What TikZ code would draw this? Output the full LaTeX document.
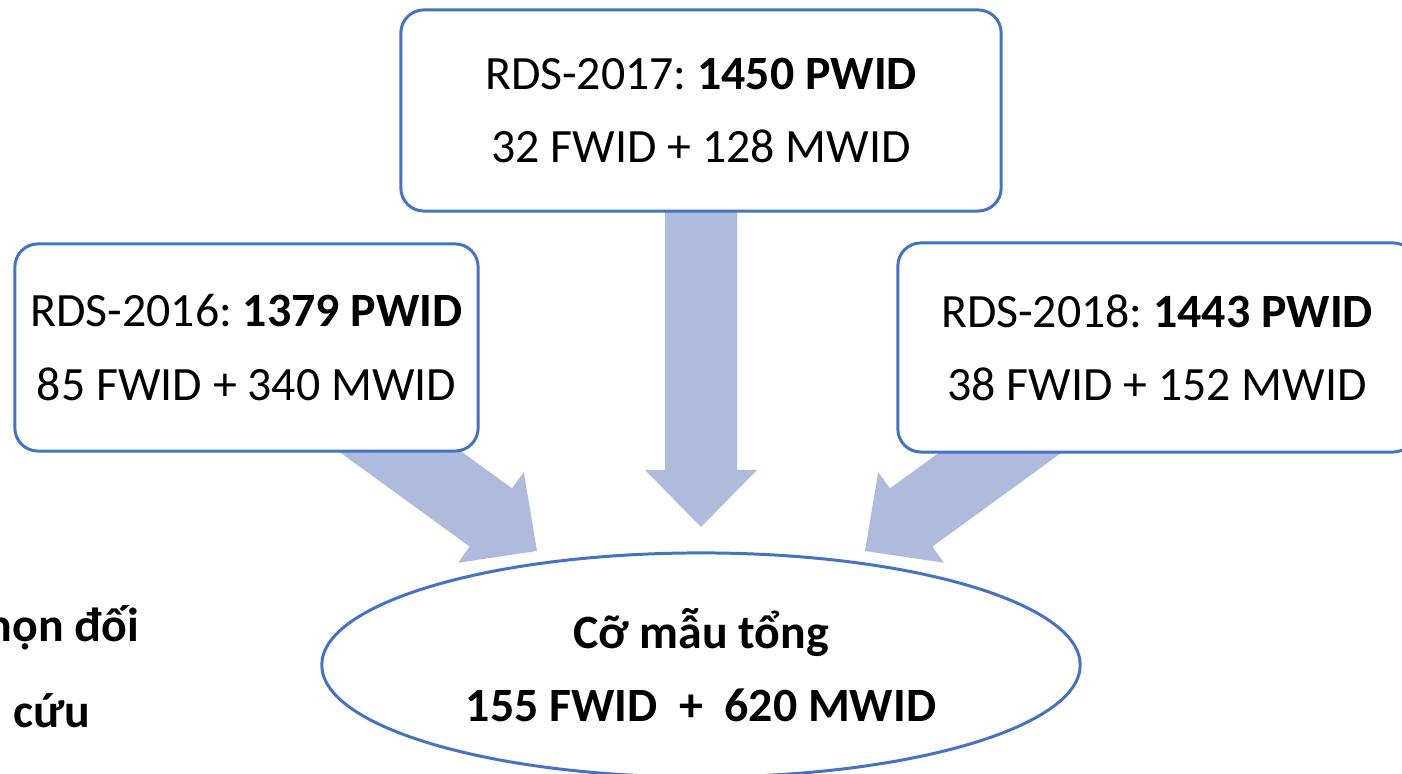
\documentclass[tikz,border=0pt]{standalone}
\usepackage{fontspec}
\setmainfont{Carlito}
\usepackage{xcolor}
\usetikzlibrary{positioning,calc,shapes.geometric,backgrounds}
\frenchspacing

\definecolor{boxblue}{RGB}{68,114,196}
\definecolor{arrowfill}{RGB}{175,187,221}

\tikzset{
    rdsbox/.style={draw=boxblue, line width=0.85pt, fill=white, rounded corners=0.23cm,
        align=center, inner sep=0pt, font=\fontsize{13.6}{20.8}\selectfont},
    totalbox/.style={ellipse, draw=boxblue, line width=0.85pt, fill=white, align=center,
        inner sep=0pt, font=\fontsize{13.6}{20.8}\selectfont\bfseries},
    sidetext/.style={anchor=base west, inner sep=0pt, font=\fontsize{13.6}{16}\selectfont\bfseries},
    pics/blockarrow/.style={code={
        \fill[arrowfill] (0,0) -- (-57,56) -- (-57,36) -- (-#1,36) -- (-#1,-36)
            -- (-57,-36) -- (-57,-56) -- cycle;
    }}
}

\begin{document}
\begin{tikzpicture}[x=0.01cm, y=-0.01cm]
    \useasboundingbox (0,0) rectangle (1402,774);
    \clip (0,0) rectangle (1402,774);

    % survey rounds
    \node[rdsbox, minimum width=6cm, minimum height=2.01cm] (r17) at (701,110.5)
        {RDS-2017: \textbf{1450 PWID}\\32 FWID + 128 MWID};
    \node[rdsbox, minimum width=4.63cm, minimum height=2.07cm] (r16) at (246.5,347.5)
        {RDS-2016: \textbf{1379 PWID}\\85 FWID + 340 MWID};
    \node[rdsbox, minimum width=5.18cm, minimum height=2.09cm] (r18) at (1157,347.5)
        {RDS-2018: \textbf{1443 PWID}\\38 FWID + 152 MWID};

    % pooled sample
    \node[totalbox, minimum width=7.58cm, minimum height=2.24cm] (total) at (701,665)
        {Cỡ mẫu tổng\\155 FWID~~+~~620 MWID};

    % text cut off at the slide edge
    \node[sidetext] (cut1) at (-14,642) {họn đối};
    \node[sidetext] (cut2) at (13,728) {cứu};

    % block arrows behind the boxes
    \coordinate (tipC) at (701,527);
    \coordinate (tipL) at (537,551);
    \coordinate (tipR) at (865,551);
    \begin{scope}[on background layer]
        \pic[rotate=-90] at (tipC) {blockarrow=330};
        \pic[rotate=-36] at (tipL) {blockarrow=240};
        \pic[rotate=216] at (tipR) {blockarrow=240};
    \end{scope}
\end{tikzpicture}
\end{document}
